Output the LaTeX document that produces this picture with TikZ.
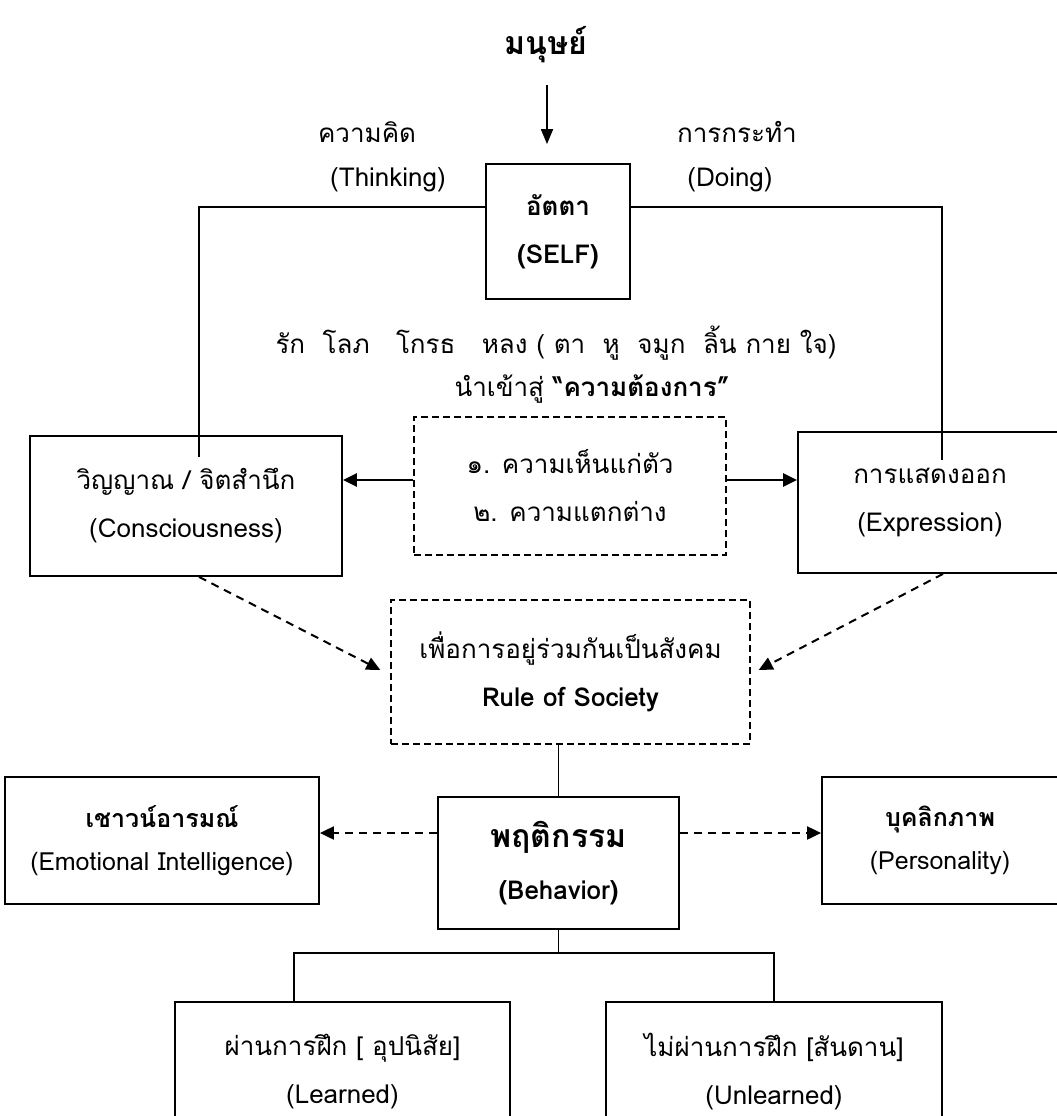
\documentclass[tikz,border=0pt]{standalone}
\usepackage{fontspec}
\setmainfont[Script=Thai]{Loma}
\usetikzlibrary{arrows.meta}

\begin{document}
\begin{tikzpicture}[x=1pt,y=-1pt,
    every node/.style={font=\fontsize{26}{48}\selectfont, align=center},
    box/.style={draw, line width=1.8pt, inner sep=0pt},
    dbox/.style={draw, line width=1.3pt, dash pattern=on 7pt off 4pt, inner sep=0pt},
    arr/.style={line width=2.5pt, -{Triangle[length=14pt,width=13pt]}},
    darr/.style={line width=2pt, dash pattern=on 8pt off 6pt, -{Triangle[length=14pt,width=13pt]}}]
  \useasboundingbox (0,0) rectangle (1057,1116);
  \node[font=\fontsize{32}{36}\selectfont\bfseries] (human) at (546,45) {มนุษย์};
  \node (think) at (367,132) {ความคิด};
  \node (thinken) at (388,180) {(Thinking)};
  \node (do) at (737,132) {การกระทำ};
  \node (doen) at (730,180) {(Doing)};
  \node[box, minimum width=144pt, minimum height=135pt] (self) at (558,231.5) {\textbf{อัตตา}\\\textbf{(SELF)}};
  \draw[line width=1.8pt, -{Triangle[length=15pt,width=12pt]}, shorten <=18pt, shorten >=19pt] (human.south -| 547,0) -- (self.north -| 547,0);
  \node (desire) at (556,343) {รัก~~โลภ~~~โกรธ~~~หลง ( ตา~~หู~~จมูก~~ลิ้น กาย ใจ)};
  \node (lead) at (592,389) {นำเข้าสู่ \textbf{“ความต้องการ”}};
  \node[dbox, minimum width=312pt, minimum height=138pt] (need) at (570,486) {๑. ความเห็นแก่ตัว\\๒. ความแตกต่าง};
  \node[box, minimum width=312pt, minimum height=140pt] (consc) at (186,506) {วิญญาณ / จิตสำนึก\\(Consciousness)};
  \node[box, minimum width=264pt, minimum height=141pt] (expr) at (930,502.5) {การแสดงออก\\(Expression)};
  % lines from the self box
  \coordinate (tl) at (199,207);
  \coordinate (tlend) at (199,457);
  \coordinate (tr) at (942,207);
  \coordinate (trend) at (942,460);
  \draw[line width=1.2pt] (self.west |- tl) -- (tl) -- (tlend);
  \draw[line width=1.2pt] (self.east |- tr) -- (tr) -- (trend);
  \draw[arr] ([yshift=6pt]need.west) -- ([yshift=6pt]need.west -| consc.east);
  \draw[arr] ([yshift=6pt]need.east) -- ([yshift=6pt]need.east -| expr.west);
  \node[dbox, minimum width=359pt, minimum height=144pt] (rule) at (570.5,672) {เพื่อการอยู่ร่วมกันเป็นสังคม\\\textbf{Rule of Society}};
  \draw[darr] ([xshift=13pt]consc.south) -- ([xshift=-10pt,yshift=2pt]rule.west);
  \draw[darr] ([xshift=13pt]expr.south) -- ([xshift=8pt,yshift=2pt]rule.east);
  \node[box, minimum width=241pt, minimum height=132pt, font=\fontsize{26}{52}\selectfont] (behav) at (558.5,863) {{\fontsize{32}{52}\selectfont\textbf{พฤติกรรม}}\\\textbf{(Behavior)}};
  \draw[line width=1.2pt] (behav.north |- rule.south) -- (behav.north);
  \node[box, minimum width=314pt, minimum height=127pt, font=\fontsize{25}{43}\selectfont] (eq) at (162,840.5) {\textbf{เชาวน์อารมณ์}\\(Emotional Intelligence)};
  \node[box, minimum width=236pt, minimum height=127pt, font=\fontsize{25}{43}\selectfont] (pers) at (940,840.5) {\textbf{บุคลิกภาพ}\\(Personality)};
  \draw[darr] ([yshift=30pt]behav.west) -- ([yshift=30pt]behav.west -| eq.east);
  \draw[darr] ([yshift=30pt]behav.east) -- ([yshift=30pt]behav.east -| pers.west);
  \node[box, minimum width=335pt, minimum height=140pt] (learned) at (342.5,1072) {ผ่านการฝึก [ อุปนิสัย]\\(Learned)};
  \node[box, minimum width=336pt, minimum height=140pt] (unlearned) at (774,1072) {ไม่ผ่านการฝึก [สันดาน]\\(Unlearned)};
  \coordinate (split) at (558.5,953);
  \draw[line width=1.2pt] (behav.south) -- (split);
  \draw[line width=1.2pt] ([xshift=-48.5pt]learned.north) |- (unlearned.north |- split) -- (unlearned.north);
\end{tikzpicture}
\end{document}
